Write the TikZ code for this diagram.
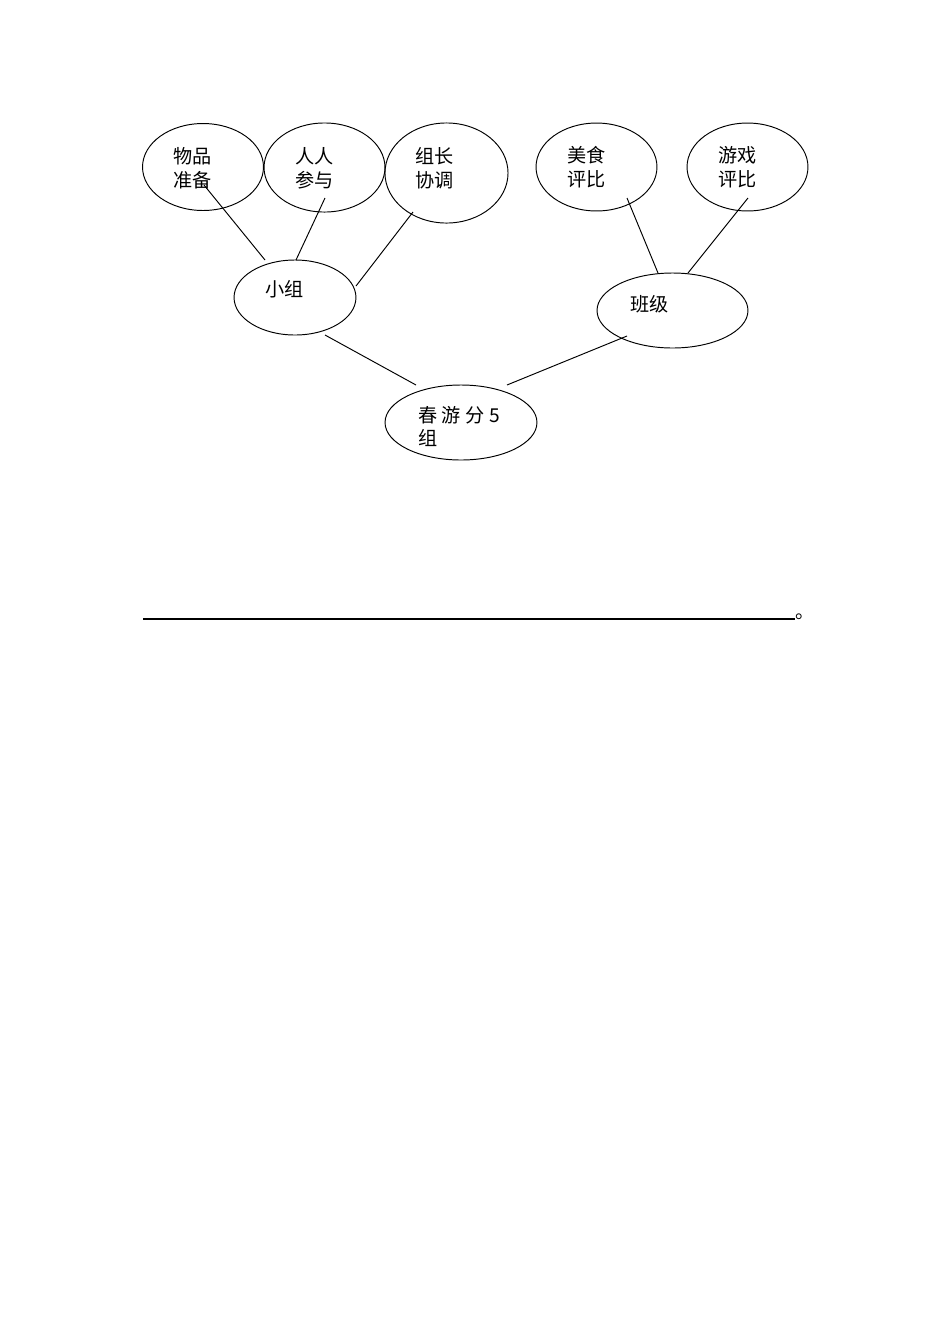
\documentclass[tikz,border=0pt]{standalone}
\usepackage{fontspec}
\newfontfamily\cjk{Noto Sans CJK SC}
\usetikzlibrary{shapes.geometric,calc}

\begin{document}
\begin{tikzpicture}[x=0.6266pt,y=0.6266pt,yscale=-1,xscale=1,
  bubble/.style={draw,ellipse,line width=0.6pt,inner sep=0pt},
  label/.style={anchor=west,inner sep=0pt,align=left,font=\cjk\fontsize{12pt}{15pt}\selectfont}]
%set diagram left start at 0, and has height of 1344
\useasboundingbox (0,0) rectangle (950,1344);

%Shape: Ellipse
\node [bubble,minimum width=75.8pt,minimum height=54.5pt] (wupin) at (203,167) {};
%Shape: Ellipse
\node [bubble,minimum width=75.8pt,minimum height=55.8pt] (renren) at (324.5,167.5) {};
%Shape: Ellipse
\node [bubble,minimum width=77.1pt,minimum height=62.7pt] (zuzhang) at (446.5,173) {};
%Shape: Ellipse
\node [bubble,minimum width=76.4pt,minimum height=47pt] (xiaozu) at (295,297.5) {};
%Shape: Ellipse
\node [bubble,minimum width=75.8pt,minimum height=55.1pt] (meishi) at (596.5,167) {};
%Shape: Ellipse
\node [bubble,minimum width=75.8pt,minimum height=55.1pt] (youxi) at (747.5,167) {};
%Shape: Ellipse
\node [bubble,minimum width=94.6pt,minimum height=47pt] (banji) at (672.5,310.5) {};
%Shape: Ellipse
\node [bubble,minimum width=95.2pt,minimum height=47pt] (chunyou) at (461,422.5) {};

%Straight Lines
\draw [line width=0.6pt] ($(wupin)+(1,18)$) -- ($(xiaozu)+(-30,-37.5)$) ;
%Straight Lines
\draw [line width=0.6pt] ($(renren)+(0.5,30.5)$) -- ($(xiaozu)+(1,-37.5)$) ;
%Straight Lines
\draw [line width=0.6pt] ($(zuzhang)+(-33.5,39)$) -- ($(xiaozu)+(61,-11.5)$) ;
%Straight Lines
\draw [line width=0.6pt] ($(meishi)+(30.5,31)$) -- ($(banji)+(-14.5,-37.5)$) ;
%Straight Lines
\draw [line width=0.6pt] ($(youxi)+(0.5,31)$) -- ($(banji)+(15.5,-37.5)$) ;
%Straight Lines
\draw [line width=0.6pt] ($(xiaozu)+(30,37.5)$) -- ($(chunyou)+(-45,-37.5)$) ;
%Straight Lines
\draw [line width=0.6pt] ($(banji)+(-45.5,25.5)$) -- ($(chunyou)+(46,-37.5)$) ;

% Text Node
\node [label] (wupintext) at (173,168) {物品\\准备};
% Text Node
\node [label] (renrentext) at (295,168) {人人\\参与};
% Text Node
\node [label] (zuzhangtext) at (415,168.5) {组长\\协调};
% Text Node
\node [label] (xiaozutext) at (265,289) {小组};
% Text Node
\node [label] (meishitext) at (567,167) {美食\\评比};
% Text Node
\node [label] (youxitext) at (718,167) {游戏\\评比};
% Text Node
\node [label] (banjitext) at (630,304) {班级};
% Text Node
\node [label] (chunyoutext) at (418,426.5) {春\hspace{2.8pt}游\hspace{2.8pt}分\hspace{2.8pt}5\\组};

%Straight Lines
\draw [line width=1pt] (143,619) -- (795,619) ;
% Text Node
\node [anchor=base west,inner sep=0pt,font=\cjk\fontsize{12pt}{15pt}\selectfont] (juhao) at (795,618) {。};

\end{tikzpicture}
\end{document}
